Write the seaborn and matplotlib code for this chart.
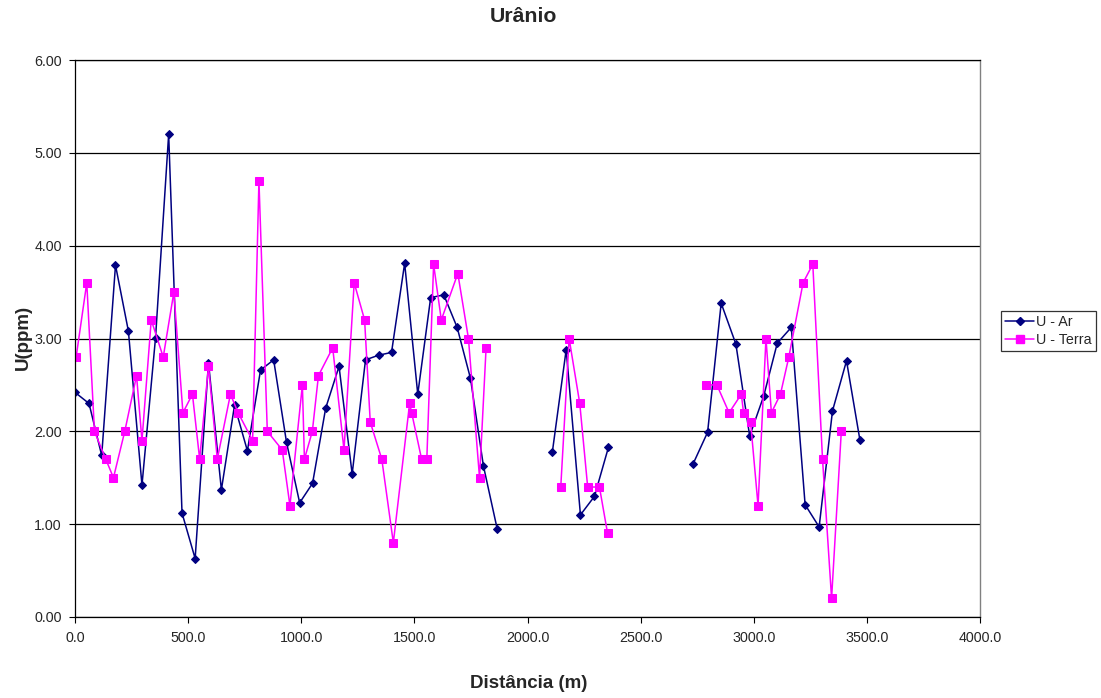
import matplotlib
matplotlib.use("Agg")
import matplotlib.pyplot as plt
from matplotlib.lines import Line2D
import seaborn as sns
import pandas as pd
import numpy as np

# ---- data ----
ar_x = [0, 62, 118, 179, 236, 296, 356, 414, 473, 531, 590, 647, 705, 762, 820, 878, 935,
        993, 1050, 1108, 1167, 1225, 1284, 1342, 1399, 1457, 1515, 1572, 1630, 1689, 1748,
        1805, 1866,
        2110, 2171, 2234, 2296, 2358,
        2732, 2796, 2856, 2921, 2982, 3044, 3104, 3166, 3227, 3289, 3348, 3410, 3469]
ar_y = [2.42, 2.30, 1.74, 3.79, 3.08, 1.42, 3.01, 5.20, 1.12, 0.63, 2.74, 1.37, 2.28, 1.79,
        2.66, 2.77, 1.88, 1.23, 1.44, 2.25, 2.70, 1.54, 2.77, 2.82, 2.85, 3.81, 2.40, 3.44,
        3.47, 3.12, 2.57, 1.63, 0.95,
        1.78, 2.88, 1.10, 1.30, 1.83,
        1.65, 1.99, 3.38, 2.94, 1.95, 2.38, 2.95, 3.12, 1.21, 0.97, 2.22, 2.76, 1.91]
ar_seg = [1] * 33 + [2] * 5 + [3] * 13

terra_x = [5, 52, 86, 136, 170, 220, 272, 296, 337, 390, 437, 477, 519, 551, 590, 629, 687,
           721, 785, 813, 850, 916, 950, 1005, 1014, 1049, 1076, 1139, 1189, 1234, 1280, 1305,
           1356, 1407, 1479, 1488, 1532, 1555, 1585, 1619, 1692, 1739, 1788, 1817,
           2147, 2184, 2231, 2266, 2318, 2354,
           2789, 2837, 2891, 2945, 2955, 2986, 3019, 3054, 3078, 3118, 3155, 3218, 3261,
           3304, 3344, 3387]
terra_y = [2.8, 3.6, 2.0, 1.7, 1.5, 2.0, 2.6, 1.9, 3.2, 2.8, 3.5, 2.2, 2.4, 1.7, 2.7, 1.7,
           2.4, 2.2, 1.9, 4.7, 2.0, 1.8, 1.2, 2.5, 1.7, 2.0, 2.6, 2.9, 1.8, 3.6, 3.2, 2.1,
           1.7, 0.8, 2.3, 2.2, 1.7, 1.7, 3.8, 3.2, 3.7, 3.0, 1.5, 2.9,
           1.4, 3.0, 2.3, 1.4, 1.4, 0.9,
           2.5, 2.5, 2.2, 2.4, 2.2, 2.1, 1.2, 3.0, 2.2, 2.4, 2.8, 3.6, 3.8, 1.7, 0.2, 2.0]
terra_seg = [1] * 44 + [2] * 6 + [3] * 16

series_names = ["U - Ar", "U - Terra"]
title = "Urânio"
x_label = "Distância (m)"
y_label = "U(ppm)"

# ---- styling ----
sns.set_style("white")
plt.rcParams["font.family"] = ["Liberation Sans", "DejaVu Sans"]

ar_color = "#000080"
terra_color = "#FF00FF"

df_ar = pd.DataFrame({"x": ar_x, "y": ar_y, "seg": ar_seg})
df_terra = pd.DataFrame({"x": terra_x, "y": terra_y, "seg": terra_seg})

W, H = 1101, 698
L, R, T, B = 75, 980, 60, 617
fig = plt.figure(figsize=(W / 100, H / 100), dpi=100)
ax = fig.add_axes([L / W, 1 - B / H, (R - L) / W, (B - T) / H])

sns.lineplot(data=df_ar, x="x", y="y", units="seg", estimator=None, sort=False,
             color=ar_color, marker="D", markersize=4.5, markeredgecolor=ar_color,
             linewidth=1.1, ax=ax, legend=False)
sns.lineplot(data=df_terra, x="x", y="y", units="seg", estimator=None, sort=False,
             color=terra_color, marker="s", markersize=5.5, markeredgecolor=terra_color,
             linewidth=1.1, ax=ax, legend=False)

ax.set_xlim(0, 4000)
ax.set_ylim(0, 6)
xt = np.arange(0, 4001, 500)
yt = np.arange(0, 6.01, 1)
ax.set_xticks(xt)
ax.set_yticks(yt)
ax.set_xticklabels([f"{v:.1f}" for v in xt], fontsize=10.3)
ax.set_yticklabels([f"{v:.2f}" for v in yt], fontsize=10.3)
ax.tick_params(axis="both", direction="out", length=4, width=0.8, color="black",
               bottom=True, left=True)
ax.tick_params(axis="y", pad=5.5)
ax.tick_params(axis="x", pad=6)
ax.yaxis.grid(True, color="black", linewidth=0.9)
ax.set_axisbelow(True)
for side in ["left", "bottom", "top"]:
    ax.spines[side].set_color("black")
    ax.spines[side].set_linewidth(0.9)
ax.spines["right"].set_color("#808080")
ax.spines["right"].set_linewidth(1.0)

ax.set_xlabel(x_label, fontsize=13.5, fontweight="bold", va="center")
ax.xaxis.set_label_coords((528.5 - L) / (R - L), -(683 - B) / (B - T))
ax.set_ylabel(y_label, fontsize=13.5, fontweight="bold", va="center")
ax.yaxis.set_label_coords((23 - L) / (R - L), (B - 337) / (B - T))
fig.text(523 / W, 1 - 16 / H, title, ha="center", va="center",
         fontsize=15.3, fontweight="bold")

handles = [
    Line2D([0], [0], color=ar_color, marker="D", markersize=4.5, linewidth=1.1),
    Line2D([0], [0], color=terra_color, marker="s", markersize=5.5, linewidth=1.1),
]
leg = fig.legend(handles, series_names, loc="center left",
                 bbox_to_anchor=(1001 / W, 1 - 331 / H), fontsize=10.3,
                 frameon=True, fancybox=False, edgecolor="black", handlelength=2.0,
                 handletextpad=0.15, borderpad=0.3, labelspacing=0.25, borderaxespad=0)
leg.get_frame().set_linewidth(0.9)

fig.savefig("out.png", dpi=100)
